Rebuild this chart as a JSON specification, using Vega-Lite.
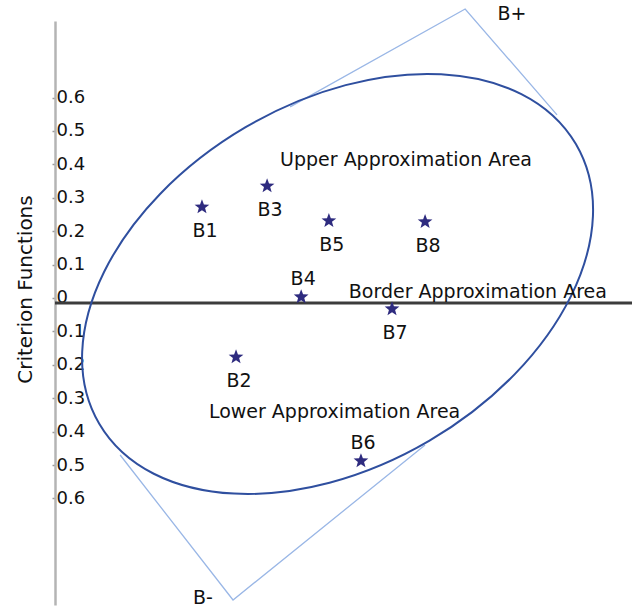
{
  "$schema": "https://vega.github.io/schema/vega-lite/v6.json",
  "width": 577,
  "height": 584,
  "padding": {"left": 55, "top": 21, "right": 0, "bottom": 4},
  "autosize": {"type": "none"},
  "background": "white",
  "config": {"view": {"stroke": null}, "font": "DejaVu Sans"},
  "datasets": {
    "points": [
      {"name": "B1", "x": 0.440, "y": 0.272, "pos": "below"},
      {"name": "B2", "x": 0.542, "y": -0.177, "pos": "below"},
      {"name": "B3", "x": 0.635, "y": 0.335, "pos": "below"},
      {"name": "B4", "x": 0.737, "y": 0.003, "pos": "above"},
      {"name": "B5", "x": 0.820, "y": 0.231, "pos": "below"},
      {"name": "B6", "x": 0.916, "y": -0.488, "pos": "above"},
      {"name": "B7", "x": 1.009, "y": -0.033, "pos": "below"},
      {"name": "B8", "x": 1.108, "y": 0.228, "pos": "below"}
    ],
    "tangents": [
      {"seg": "plus", "ord": 1, "x": 0.704, "y": 0.572},
      {"seg": "plus", "ord": 2, "x": 1.228, "y": 0.865},
      {"seg": "plus", "ord": 3, "x": 1.503, "y": 0.548},
      {"seg": "minus", "ord": 1, "x": 0.195, "y": -0.470},
      {"seg": "minus", "ord": 2, "x": 0.533, "y": -0.904},
      {"seg": "minus", "ord": 3, "x": 1.108, "y": -0.440}
    ],
    "annotations": [
      {"text": "Upper Approximation Area", "x": 1.051, "y": 0.413},
      {"text": "Border Approximation Area", "x": 1.266, "y": 0.018},
      {"text": "Lower Approximation Area", "x": 0.837, "y": -0.341},
      {"text": "B+", "x": 1.368, "y": 0.850},
      {"text": "B-", "x": 0.443, "y": -0.898}
    ],
    "ellipse": [
      {"x": 0.846, "y": 0.042}
    ],
    "baseline": [
      {"y": 0}
    ]
  },
  "layer": [
    {
      "data": {"name": "baseline"},
      "mark": {"type": "rule", "color": "#3c3c3c", "strokeWidth": 3, "yOffset": 5},
      "encoding": {
        "y": {
          "field": "y",
          "type": "quantitative",
          "scale": {"domain": [-0.919, 0.829], "nice": false, "zero": false},
          "axis": {
            "orient": "left",
            "values": [-0.6, -0.5, -0.4, -0.3, -0.2, -0.1, 0, 0.1, 0.2, 0.3, 0.4, 0.5, 0.6],
            "labelExpr": "datum.value == 0 ? '0' : format(abs(datum.value), '.1f')",
            "grid": false,
            "domainColor": "#b4b4b4",
            "domainWidth": 2.5,
            "tickColor": "#9a9a9a",
            "tickSize": 3,
            "tickWidth": 1.5,
            "labelAlign": "left",
            "labelPadding": -4,
            "labelFontSize": 18,
            "labelColor": "#111111",
            "labelFont": "DejaVu Sans",
            "labelFlush": false,
            "labelOverlap": false,
            "title": "Criterion Functions",
            "titleFont": "DejaVu Sans",
            "titleFontSize": 20,
            "titleFontWeight": "normal",
            "titleColor": "#111111",
            "titleX": -30,
            "titleY": 268,
            "titleAngle": 270,
            "titleBaseline": "middle",
            "titleAlign": "center"
          }
        }
      }
    },
    {
      "data": {"name": "tangents"},
      "mark": {"type": "line", "color": "#9ab7e6", "strokeWidth": 1.3},
      "encoding": {
        "x": {"field": "x", "type": "quantitative", "scale": {"domain": [0, 1.7275], "nice": false, "zero": false}, "axis": null},
        "y": {"field": "y", "type": "quantitative"},
        "detail": {"field": "seg"},
        "order": {"field": "ord"}
      }
    },
    {
      "data": {"name": "ellipse"},
      "mark": {
        "type": "point",
        "shape": "M-1,0 A1,0.6576 0 1,0 1,0 A1,0.6576 0 1,0 -1,0 Z",
        "size": 305367,
        "angle": 329.6,
        "filled": false,
        "stroke": "#2f4f9f",
        "strokeWidth": 2,
        "opacity": 1
      },
      "encoding": {
        "x": {"field": "x", "type": "quantitative"},
        "y": {"field": "y", "type": "quantitative"}
      }
    },
    {
      "data": {"name": "points"},
      "mark": {
        "type": "point",
        "shape": "M0,-1L0.25,-0.34L0.951,-0.309L0.4,0.13L0.588,0.809L0,0.42L-0.588,0.809L-0.4,0.13L-0.951,-0.309L-0.25,-0.34Z",
        "size": 240,
        "filled": true,
        "color": "#2e2b7f",
        "opacity": 1,
        "strokeWidth": 0
      },
      "encoding": {
        "x": {"field": "x", "type": "quantitative"},
        "y": {"field": "y", "type": "quantitative"}
      }
    },
    {
      "data": {"name": "points"},
      "transform": [{"filter": "datum.pos == 'below'"}],
      "mark": {"type": "text", "fontSize": 19, "color": "#111111", "dy": 24, "dx": 3, "baseline": "middle", "align": "center"},
      "encoding": {
        "x": {"field": "x", "type": "quantitative"},
        "y": {"field": "y", "type": "quantitative"},
        "text": {"field": "name"}
      }
    },
    {
      "data": {"name": "points"},
      "transform": [{"filter": "datum.pos == 'above'"}],
      "mark": {"type": "text", "fontSize": 19, "color": "#111111", "dy": -18, "dx": 2, "baseline": "middle", "align": "center"},
      "encoding": {
        "x": {"field": "x", "type": "quantitative"},
        "y": {"field": "y", "type": "quantitative"},
        "text": {"field": "name"}
      }
    },
    {
      "data": {"name": "annotations"},
      "mark": {"type": "text", "fontSize": 19, "color": "#111111", "baseline": "middle", "align": "center"},
      "encoding": {
        "x": {"field": "x", "type": "quantitative"},
        "y": {"field": "y", "type": "quantitative"},
        "text": {"field": "text"}
      }
    }
  ]
}
